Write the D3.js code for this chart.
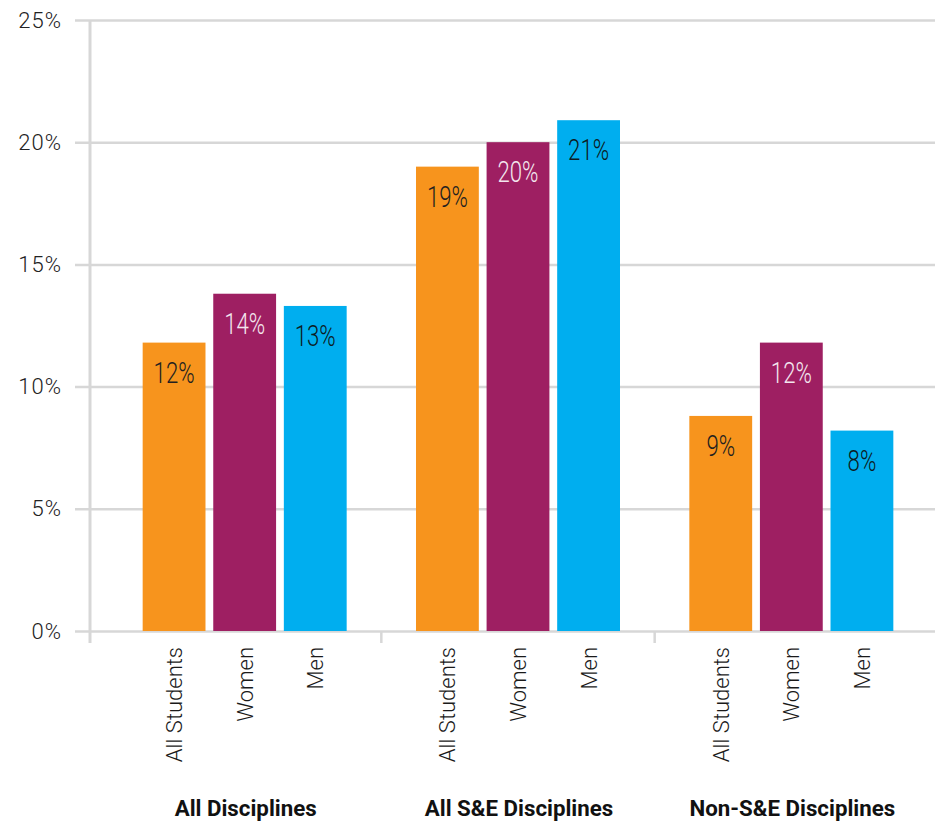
<!DOCTYPE html>
<html>
<head>
<meta charset="utf-8">
<script src="https://cdn.jsdelivr.net/npm/d3@7"></script>
<style>
  html, body { margin: 0; padding: 0; background: #fff; }
  svg { display: block; }
</style>
</head>
<body>
<svg id="chart" width="935" height="822"></svg>
<script>
// ---- data ----
const groups = ["All Disciplines", "All S&E Disciplines", "Non-S&E Disciplines"];
const subgroups = ["All Students", "Women", "Men"];
const allStudents = [11.8, 19.0, 8.8];
const women = [13.8, 20.0, 11.8];
const men = [13.3, 20.9, 8.2];
const yTicks = [0, 5, 10, 15, 20, 25];

const seriesValues = { "All Students": allStudents, "Women": women, "Men": men };
const colors = { "All Students": "#F7941D", "Women": "#9E1F62", "Men": "#00AEEF" };
const labelColors = { "All Students": "#231f20", "Women": "#f3e6ee", "Men": "#0d1b22" };

const rows = [];
groups.forEach((g, gi) => subgroups.forEach(s => rows.push({ group: g, sub: s, value: seriesValues[s][gi] })));

const svg = d3.select("#chart");
const W = 935;
const gridColor = "#d7d7d7";

const y = d3.scaleLinear().domain([0, 25]).range([631, 20]);
const x0 = d3.scaleBand().domain(groups).range([108, 928]).padding(0);
const innerW = 204;
const x1 = d3.scaleBand().domain(subgroups).range([0, innerW]).paddingInner(0.11).paddingOuter(0);

// y axis with gridlines
const yAxis = d3.axisLeft(y)
  .tickValues(yTicks)
  .tickSize(-(W - 75))
  .tickPadding(13)
  .tickFormat(d => d + "%");
const gy = svg.append("g").attr("transform", "translate(75,0)").call(yAxis);
gy.select(".domain").remove();
gy.selectAll(".tick line").attr("stroke", gridColor).attr("stroke-width", 2.5);
gy.selectAll(".tick text")
  .attr("fill", "#222")
  .style("font-family", "Roboto, 'Helvetica Neue', Arial, sans-serif")
  .style("font-weight", 300)
  .style("font-size", "22px")
  .style("letter-spacing", "1px");

// vertical axis line
svg.append("line")
  .attr("x1", 90).attr("x2", 90)
  .attr("y1", y(25)).attr("y2", y(0) + 12)
  .attr("stroke", gridColor).attr("stroke-width", 3);

// group separator ticks
groups.slice(1).forEach(g => {
  svg.append("line")
    .attr("x1", x0(g)).attr("x2", x0(g))
    .attr("y1", y(0)).attr("y2", y(0) + 12)
    .attr("stroke", gridColor).attr("stroke-width", 2.5);
});

// bars
const barX = d => x0(d.group) + x0.bandwidth() / 2 - innerW / 2 + x1(d.sub);
svg.append("g").selectAll("rect").data(rows).join("rect")
  .attr("x", barX)
  .attr("width", x1.bandwidth())
  .attr("y", d => y(d.value))
  .attr("height", d => y(0) - y(d.value))
  .attr("fill", d => colors[d.sub]);

// value labels (condensed light)
const sx = 0.74;
svg.append("g").selectAll("text").data(rows).join("text")
  .attr("transform", d => `translate(${barX(d) + x1.bandwidth() / 2},${y(d.value) + 40}) scale(${sx},1)`)
  .attr("text-anchor", "middle")
  .attr("fill", d => labelColors[d.sub])
  .style("font-family", "Roboto, Arial, sans-serif")
  .style("font-weight", 300)
  .style("font-size", "30px")
  .text(d => Math.round(d.value) + "%");

// rotated category labels
svg.append("g").selectAll("text").data(rows).join("text")
  .attr("transform", d => `translate(${barX(d) + x1.bandwidth() / 2},647) rotate(-90)`)
  .attr("text-anchor", "end")
  .attr("dy", "0.36em")
  .attr("fill", "#1a1a1a")
  .style("font-family", "Roboto, Arial, sans-serif")
  .style("font-weight", 300)
  .style("font-size", "22px")
  .text(d => d.sub);

// group labels (bold condensed)
const gsx = 0.97;
svg.append("g").selectAll("text").data(groups).join("text")
  .attr("transform", g => `translate(${x0(g) + x0.bandwidth() / 2 + 1},816) scale(${gsx},1)`)
  .attr("text-anchor", "middle")
  .attr("fill", "#111")
  .style("font-family", "Roboto, Arial, sans-serif")
  .style("font-weight", 700)
  .style("font-size", "23px")
  .text(g => g);
</script>
</body>
</html>
